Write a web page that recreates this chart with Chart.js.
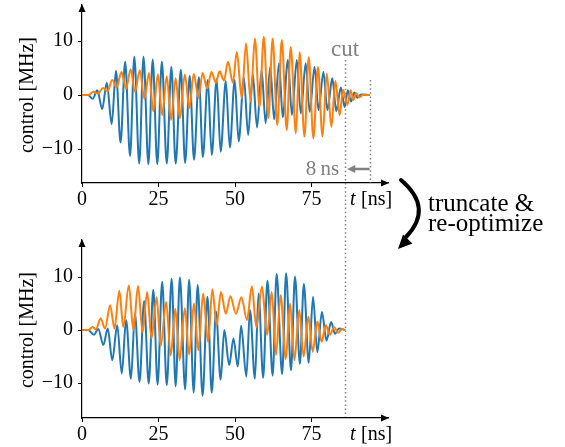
<!DOCTYPE html>
<html><head><meta charset="utf-8">
<script src="https://cdn.jsdelivr.net/npm/chart.js@4.4.1/dist/chart.umd.min.js"></script>
<style>
html,body{margin:0;padding:0;background:#fff;width:565px;height:447px;overflow:hidden}
canvas{position:absolute;left:0;top:0}
</style></head>
<body>
<canvas id="topChart" width="565" height="447"></canvas>
<canvas id="botChart" width="565" height="447"></canvas>
<script>
// ---------- data ----------
const xTicks = [0, 25, 50, 75];
const yTicks = [-10, 0, 10];
const cutTime = 86;      // ns, truncation point
const endTime = 94;      // ns, original pulse end

// top panel: original pulse
const topBlueT = [0,2,3.5,5.0,6.6,8.1,9.7,11.1,12.6,14.1,15.7,17.1,18.7,20.1,21.7,23.1,24.6,26.1,27.7,29.2,30.6,32.3,33.7,35.2,36.6,38.2,39.5,41.1,42.4,44.0,45.3,47.0,48.3,49.9,51.2,52.9,54.3,55.8,57.2,58.7,60.0,61.5,62.8,64.4,65.6,67.3,68.6,70.2,71.5,73.1,74.4,76.0,77.3,78.9,80.2,81.8,83.1,84.6,85.8,86.9,87.9,89.0,90.0,91.2,94];
const topBlueV = [0,0,-0.7,0.9,-2.6,2.3,-5.4,4.5,-8.8,6.2,-11.3,7.1,-12.7,7.1,-12.8,6.6,-12.8,6.2,-12.7,5.2,-12.7,4.7,-12.6,3.6,-12.0,3.3,-11.5,2.8,-11.1,3.0,-10.5,2.6,-9.7,2.8,-8.6,3.3,-7.4,3.9,-6.0,4.6,-5.2,5.2,-4.5,5.9,-4.1,6.5,-3.7,6.5,-3.4,5.9,-3.1,5.2,-2.8,4.3,-2.8,3.1,-3.0,1.4,-2.2,0.9,-1.2,0.5,-0.5,0.1,0];
const topOrangeT = [0,2,3.7,5.2,6.9,8.3,9.9,11.3,12.9,14.4,15.9,17.3,18.9,20.4,21.9,23.3,24.8,26.2,27.7,29.1,30.6,32.0,33.6,35.1,36.5,38.1,39.4,40.9,42.3,43.7,45.0,46.4,47.7,49.3,50.6,52.2,53.6,55.1,56.5,58.0,59.4,60.9,62.3,63.8,65.3,66.9,68.2,69.9,71.1,72.7,74.1,75.6,77.1,78.6,80.0,81.5,82.8,84.2,85.3,86.7,87.8,88.7,89.6,90.6,91.8,94];
const topOrangeV = [0,0,0.6,0.3,1.3,0.7,2.8,1.4,4.3,1.2,4.8,0.6,4.6,-0.7,4.1,-3.0,3.8,-3.7,3.5,-4.6,3.1,-4.3,3.8,-2.4,3.9,-0.5,4.1,1.2,4.3,2.3,4.4,2.7,6.2,2.3,8.0,-0.6,9.6,-1.2,10.5,-2.2,10.8,-4.3,10.5,-5.6,10.2,-6.5,8.9,-7.1,8.0,-7.7,7.0,-8.0,5.2,-7.7,4.0,-5.9,2.6,-3.7,1.0,-1.8,0.9,-0.9,0.4,-0.4,0,0];

// bottom panel: truncated & re-optimized pulse
const botBlueT = [0,2,3.9,5.3,7.0,8.4,9.9,11.5,13.0,14.4,16.0,17.3,18.8,20.3,21.8,23.3,24.7,26.2,27.7,29.3,30.6,32.0,33.7,35.0,36.5,37.8,39.4,41.0,42.4,43.8,45.3,46.5,48.1,49.5,50.9,52.0,53.7,54.9,56.5,57.7,59.2,60.6,62.3,63.6,65.4,66.7,68.3,69.6,71.2,72.5,74.1,75.5,76.9,78.4,79.9,81.4,82.7,84.0,86];
const botBlueV = [0,0,-0.9,0.2,-2.8,0.3,-5.7,0.9,-8.2,1.9,-9.2,3.1,-9.8,5.5,-10.1,7.6,-10.3,9.1,-10.4,9.7,-10.6,9.9,-11.2,9.5,-11.8,8.5,-12.4,6.3,-11.8,3.5,-9.4,0.0,-6.6,-1.6,-6.9,0.8,-8.8,3.8,-9.2,6.9,-9.0,9.3,-8.6,10.6,-8.3,10.7,-7.6,10.1,-6.4,8.7,-6.2,6.3,-4.2,3.4,-2.0,1.5,-0.7,0.3,0];
const botOrangeT = [0,2,3.5,4.5,6.1,7.5,9.2,10.6,12.2,13.5,15.3,16.8,18.3,19.8,21.3,22.7,24.4,25.7,27.5,29.0,30.5,31.9,33.6,35.0,36.6,38.0,39.6,41.2,42.6,44.0,45.4,47.0,48.5,50.3,52.1,53.9,55.5,57.0,58.8,60.5,62.0,63.4,64.9,66.6,68.0,69.4,71.0,72.4,74.0,75.4,76.9,78.3,79.7,81.0,82.4,83.7,85,86];
const botOrangeV = [0,0,0.6,0.1,2.2,0.3,4.7,0.3,7.4,0.6,8.4,0.0,8.3,-0.4,7.2,-1.6,6.2,-3.0,5.3,-4.8,4.0,-5.7,4.1,-4.6,5.0,-3.8,6.9,-2.2,7.7,0.9,7.2,3.1,6.4,3.1,6.2,1.9,8.2,0.5,8.2,-0.9,7.2,-4.7,6.6,-5.5,5.0,-5.7,3.8,-5.0,2.5,-4.1,1.6,-2.2,0.9,-0.9,0.6,-0.5,0.2,0];

// ---------- helpers ----------
const SERIF = "'Liberation Serif', 'Times New Roman', serif";
const BLUE = '#1f77b4', ORANGE = '#ff7f0e', GRAY = '#808080';
const BOT_AXIS_Y = 418;
const XSCALE_H = 28;
function zip(t, v) { const n = Math.min(t.length, v.length); const out = []; for (let i = 0; i < n; i++) out.push({x: t[i], y: v[i]}); return out; }
function fmt(v) { return v < 0 ? '\u2212' + Math.abs(v) : String(v); }
function noPad(s) { s.paddingTop = 0; s.paddingBottom = 0; s.paddingLeft = 0; s.paddingRight = 0; }

function arrowHead(ctx, tipX, tipY, dx, dy, len, half) {
  const bx = tipX - dx * len, by = tipY - dy * len;
  ctx.beginPath();
  ctx.moveTo(tipX, tipY);
  ctx.lineTo(bx - dy * half, by + dx * half);
  ctx.lineTo(bx + dy * half, by - dx * half);
  ctx.closePath();
  ctx.fill();
}

function commonDecor(chart) {
  const {ctx, chartArea: a, scales: {x, y}} = chart;
  ctx.save();
  ctx.fillStyle = '#000';
  arrowHead(ctx, a.left, a.top - 1, 0, -1, 8, 3.5);
  arrowHead(ctx, a.right + 1, a.bottom, 1, 0, 8, 3.5);
  // y label
  ctx.save();
  ctx.translate(28, y.getPixelForValue(0));
  ctx.rotate(-Math.PI / 2);
  ctx.font = '20px ' + SERIF;
  ctx.textAlign = 'center';
  ctx.textBaseline = 'middle';
  ctx.fillText('control [MHz]', 0, 0);
  ctx.restore();
  // x label
  ctx.textBaseline = 'alphabetic';
  ctx.textAlign = 'left';
  ctx.font = 'italic 20px ' + SERIF;
  ctx.fillText('t', 350, a.bottom + 22);
  ctx.font = '20px ' + SERIF;
  ctx.fillText('[ns]', 361, a.bottom + 22);
  ctx.restore();
}

const topDecor = {
  id: 'topDecor',
  beforeDatasetsDraw(chart) {
    const {ctx, chartArea: a, scales: {x}} = chart;
    ctx.save();
    ctx.strokeStyle = GRAY;
    ctx.lineWidth = 1.5;
    ctx.setLineDash([1.5, 2.6]);
    const cx = Math.round(x.getPixelForValue(cutTime)) + 0.5;
    ctx.beginPath(); ctx.moveTo(cx, 60); ctx.lineTo(cx, BOT_AXIS_Y); ctx.stroke();
    const ex = Math.round(x.getPixelForValue(endTime)) + 0.5;
    ctx.beginPath(); ctx.moveTo(ex, 80); ctx.lineTo(ex, a.bottom); ctx.stroke();
    ctx.restore();
  },
  afterDraw(chart) {
    commonDecor(chart);
    const {ctx, scales: {x}} = chart;
    const cx = x.getPixelForValue(cutTime);
    const ex = x.getPixelForValue(endTime);
    ctx.save();
    ctx.fillStyle = GRAY;
    ctx.font = '23px ' + SERIF;
    ctx.textAlign = 'center';
    ctx.textBaseline = 'alphabetic';
    ctx.fillText('cut', cx, 56);
    ctx.font = '21px ' + SERIF;
    ctx.textAlign = 'right';
    ctx.fillText('8\u2009ns', cx - 6, 175);
    // 8 ns arrow
    ctx.strokeStyle = GRAY;
    ctx.lineWidth = 2.5;
    ctx.beginPath(); ctx.moveTo(ex, 169); ctx.lineTo(cx + 7, 169); ctx.stroke();
    arrowHead(ctx, cx + 2, 169, -1, 0, 8, 4);
    // curved arrow
    ctx.strokeStyle = '#000';
    ctx.fillStyle = '#000';
    ctx.lineWidth = 4;
    ctx.lineCap = 'round';
    ctx.beginPath();
    ctx.moveTo(401, 180);
    ctx.quadraticCurveTo(434, 208, 406, 237);
    ctx.stroke();
    const dx = -28, dy = 29, L = Math.hypot(dx, dy);
    arrowHead(ctx, 398, 249, dx / L, dy / L, 14, 6.5);
    // text
    ctx.font = '25px ' + SERIF;
    ctx.textAlign = 'left';
    ctx.fillText('truncate &', 428, 211);
    ctx.fillText('re-optimize', 428, 231);
    ctx.restore();
  }
};
const botDecor = { id: 'botDecor', afterDraw(chart) { commonDecor(chart); } };

function makeChart(id, bT, bV, oT, oV, yMin, yMax, top, bottom, plugin) {
  const tickFont = {family: SERIF, size: 20};
  return new Chart(document.getElementById(id), {
    type: 'line',
    data: {datasets: [
      {data: zip(oT, oV), borderColor: ORANGE, borderWidth: 2, pointRadius: 0, fill: false, cubicInterpolationMode: 'monotone', order: 0},
      {data: zip(bT, bV), borderColor: BLUE, borderWidth: 2, pointRadius: 0, fill: false, cubicInterpolationMode: 'monotone', order: 1}
    ]},
    options: {
      responsive: false, animation: false, devicePixelRatio: 1, events: [],
      layout: {padding: {left: 0, right: 565 - 388, top: top, bottom: Math.max(0, 447 - bottom - XSCALE_H)}},
      plugins: {legend: {display: false}, tooltip: {enabled: false}},
      scales: {
        x: {
          type: 'linear', min: 0, max: 100,
          afterBuildTicks: s => { s.ticks = xTicks.map(v => ({value: v})); },
          afterFit: s => { s.height = XSCALE_H; noPad(s); },
          ticks: {font: tickFont, color: '#000', padding: 1, maxRotation: 0, autoSkip: false, callback: v => fmt(v)},
          grid: {display: true, drawOnChartArea: false, drawTicks: true, tickLength: 4, color: '#000'},
          border: {display: true, color: '#000', width: 1.2}
        },
        y: {
          type: 'linear', min: yMin, max: yMax,
          afterBuildTicks: s => { s.ticks = yTicks.map(v => ({value: v})); },
          afterFit: s => { s.width = 82; noPad(s); },
          ticks: {font: tickFont, color: '#000', padding: 5, autoSkip: false, callback: v => fmt(v)},
          grid: {display: true, drawOnChartArea: false, drawTicks: true, tickLength: 4, color: '#000'},
          border: {display: true, color: '#000', width: 1.2}
        }
      }
    },
    plugins: [plugin]
  });
}

makeChart('topChart', topBlueT, topBlueV, topOrangeT, topOrangeV, -16.3, 16.7, 5, 183, topDecor);
makeChart('botChart', botBlueT, botBlueV, botOrangeT, botOrangeV, -16.6, 17.0, 240, 418, botDecor);
</script>
</body></html>
